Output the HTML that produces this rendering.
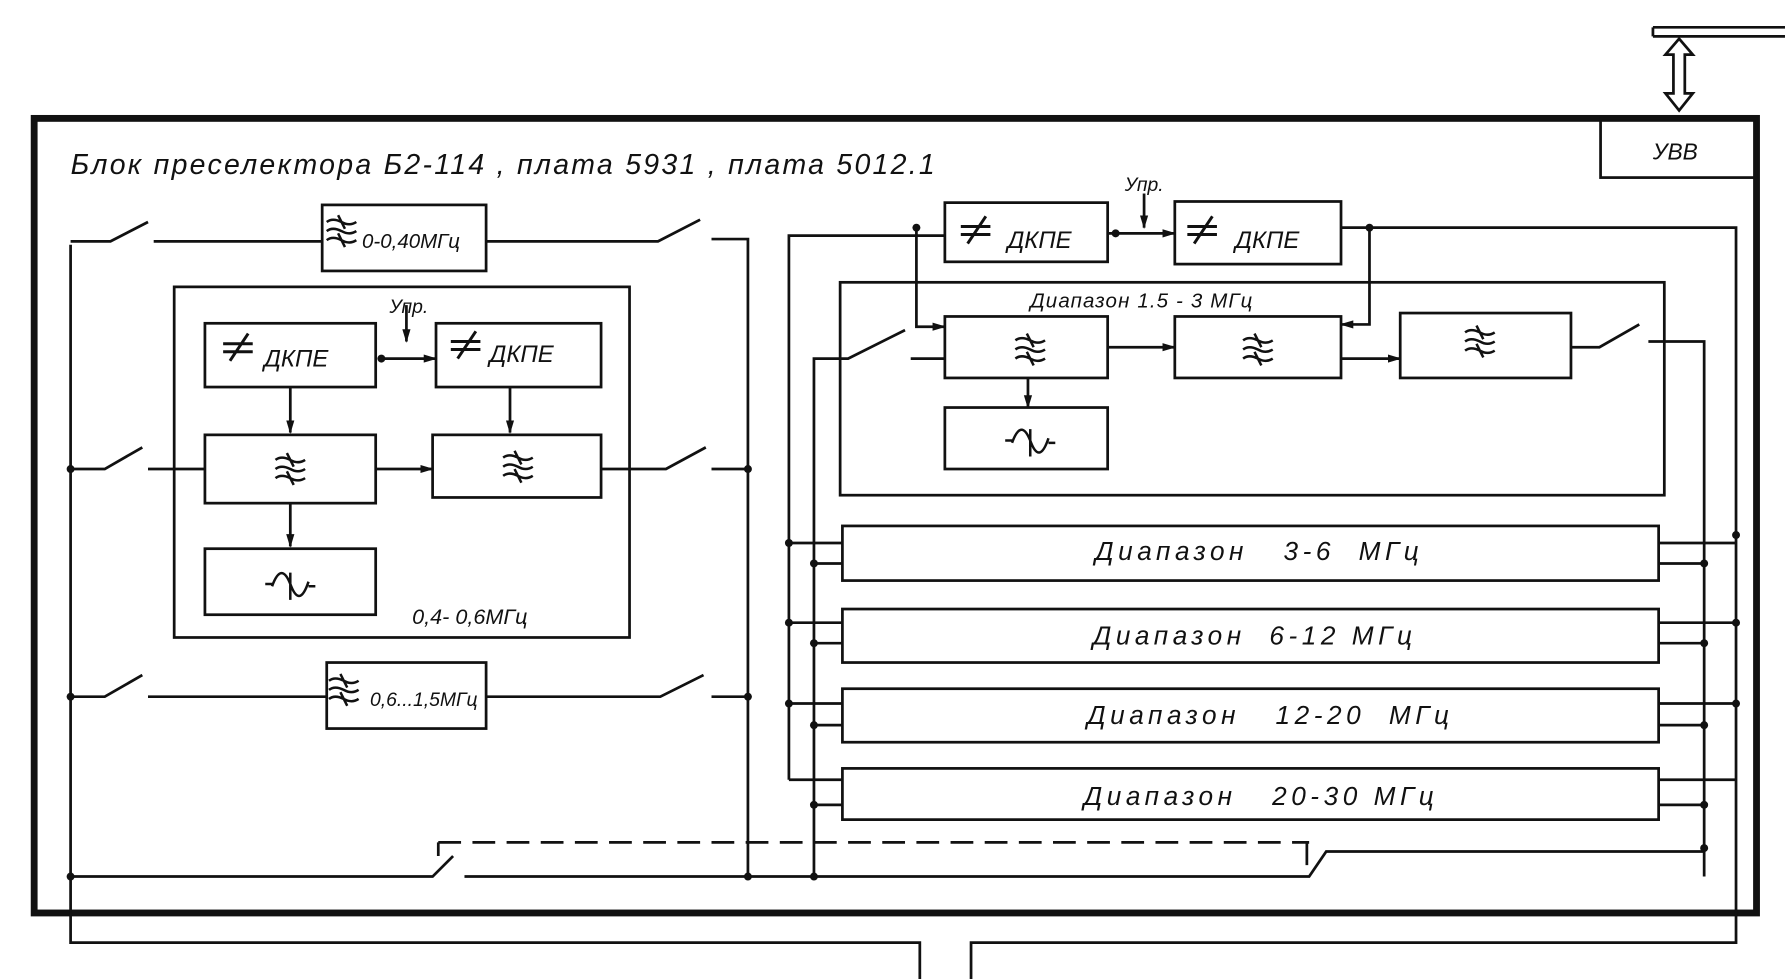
<!DOCTYPE html>
<html><head><meta charset="utf-8"><style>
html,body{margin:0;padding:0;background:#fff;}
svg{display:block}
text{font-family:"Liberation Sans",sans-serif;font-style:italic;fill:#111}
</style></head><body>
<svg width="1785" height="979" viewBox="0 0 1568 860" xmlns="http://www.w3.org/2000/svg">
<defs>
<marker id="a" viewBox="0 0 10 10" refX="9" refY="5" markerWidth="5" markerHeight="5" orient="auto"><path d="M0,2 L10,5 L0,8 z" fill="#111"/></marker>
<g id="flt"><path d="M-13,-8 q5,-4 13,0 q7,4 13,0 M-13,0 q5,-4 13,0 q7,4 13,0 M-13,8 q5,-4 13,0 q7,4 13,0 M-3,-14 L3,-2 M-3,2 L3,14" fill="none" stroke="#111" stroke-width="2.2"/></g>
<g id="ne"><path d="M-14,-3 H12 M-14,4 H12 M-8,12 L8,-12" fill="none" stroke="#111" stroke-width="2.6"/></g>
<g id="sn"><path d="M-22,0 H-16 M-16,2 q8,-22 16,-2 q8,22 16,-2 M16,2 H22 M0,-10 V14" fill="none" stroke="#111" stroke-width="2.2"/></g>
<g id="dot"><circle r="3.5" fill="#111"/></g>
</defs>
<g fill="none" stroke="#111" stroke-width="2.4">
<path d="M1452,24 H1568 M1452,32 H1568 M1452,24 V32"/>
<path d="M1475,34 L1463,48 H1470 V82 H1463 L1475,97 L1487,82 H1480 V48 H1487 Z"/>
<rect x="30" y="104" width="1513" height="698" stroke-width="6"/>
<rect x="1406" y="104" width="137" height="52"/>
<path d="M62,215 V828 H808 V860 M853,860 V828 H1525 V200 H1178"/>
<path d="M62,212 H97 L130,195 M135,212 H283 M427,212 H578 L615,193 M625,210 H657 V770"/>
<rect x="283" y="180" width="144" height="58"/>
<rect x="153" y="252" width="400" height="308"/>
<path d="M62,412 H92 L125,393 M130,412 H180"/>
<rect x="180" y="382" width="150" height="60"/>
<path d="M330,412 H380" marker-end="url(#a)"/>
<rect x="380" y="382" width="148" height="55"/>
<path d="M528,412 H585 L620,393 M625,412 H657"/>
<rect x="180" y="284" width="150" height="56"/>
<rect x="383" y="284" width="145" height="56"/>
<path d="M357,268 V300" marker-end="url(#a)"/>
<path d="M335,315 H383" marker-end="url(#a)"/>
<path d="M255,340 V380" marker-end="url(#a)"/>
<path d="M448,340 V380" marker-end="url(#a)"/>
<path d="M255,442 V480" marker-end="url(#a)"/>
<rect x="180" y="482" width="150" height="58"/>
<path d="M62,612 H92 L125,593 M130,612 H287"/>
<rect x="287" y="582" width="140" height="58"/>
<path d="M427,612 H580 L618,593 M625,612 H657"/>
<path d="M62,770 H380 L398,752 M408,770 H1150 L1165,748 H1497"/>
<path d="M385,740 H1150 M385,740 V752 M1148,740 V760" stroke-dasharray="20,10"/>
<path d="M693,685 V207 H830"/>
<rect x="830" y="178" width="143" height="52"/>
<path d="M973,205 H1032" marker-end="url(#a)"/>
<path d="M1005,170 V200" marker-end="url(#a)"/>
<rect x="1032" y="177" width="146" height="55"/>
<rect x="738" y="248" width="724" height="187"/>
<path d="M805,200 V287 H830" marker-end="url(#a)"/>
<path d="M1203,200 V285 H1178" marker-end="url(#a)"/>
<path d="M715,770 V315 H745 L795,290 M800,315 H830"/>
<rect x="830" y="278" width="143" height="54"/>
<path d="M973,305 H1032" marker-end="url(#a)"/>
<rect x="1032" y="278" width="146" height="54"/>
<path d="M1178,315 H1230" marker-end="url(#a)"/>
<rect x="1230" y="275" width="150" height="57"/>
<path d="M1380,305 H1405 L1440,285 M1448,300 H1497 V770"/>
<path d="M903,332 V358" marker-end="url(#a)"/>
<rect x="830" y="358" width="143" height="54"/>
<rect x="740" y="462" width="717" height="48"/>
<rect x="740" y="535" width="717" height="47"/>
<rect x="740" y="605" width="717" height="47"/>
<rect x="740" y="675" width="717" height="45"/>
<path d="M693,477 H740 M715,495 H740 M1457,477 H1525 M1457,495 H1497
M693,547 H740 M715,565 H740 M1457,547 H1525 M1457,565 H1497
M693,618 H740 M715,637 H740 M1457,618 H1525 M1457,637 H1497
M693,685 H740 M715,707 H740 M1457,685 H1525 M1457,707 H1497"/>
</g>
<g>
<use href="#dot" x="62" y="412"/><use href="#dot" x="62" y="612"/><use href="#dot" x="62" y="770"/>
<use href="#dot" x="657" y="412"/><use href="#dot" x="657" y="612"/><use href="#dot" x="657" y="770"/>
<use href="#dot" x="335" y="315"/><use href="#dot" x="805" y="200"/><use href="#dot" x="1203" y="200"/><use href="#dot" x="980" y="205"/>
<use href="#dot" x="693" y="477"/><use href="#dot" x="693" y="547"/><use href="#dot" x="693" y="618"/>
<use href="#dot" x="715" y="495"/><use href="#dot" x="715" y="565"/><use href="#dot" x="715" y="637"/><use href="#dot" x="715" y="707"/><use href="#dot" x="715" y="770"/>
<use href="#dot" x="1525" y="470"/><use href="#dot" x="1525" y="547"/><use href="#dot" x="1525" y="618"/>
<use href="#dot" x="1497" y="495"/><use href="#dot" x="1497" y="565"/><use href="#dot" x="1497" y="637"/><use href="#dot" x="1497" y="707"/><use href="#dot" x="1497" y="745"/>
</g>
<use href="#flt" x="255" y="412"/><use href="#flt" x="455" y="410"/>
<use href="#flt" x="905" y="307"/><use href="#flt" x="1105" y="307"/><use href="#flt" x="1300" y="300"/>
<use href="#flt" x="300" y="203"/><use href="#flt" x="302" y="606"/>
<use href="#ne" x="210" y="305"/><use href="#ne" x="410" y="303"/><use href="#ne" x="858" y="202"/><use href="#ne" x="1057" y="202"/>
<use href="#sn" x="255" y="513"/><use href="#sn" x="905" y="387"/>
<text x="62" y="153" font-size="25" letter-spacing="2">Блок  преселектора  Б2-114 ,  плата  5931 ,  плата  5012.1</text>
<text x="1452" y="140" font-size="20" font-style="normal">УВВ</text>
<text x="318" y="218" font-size="18">0-0,40МГц</text>
<text x="325" y="620" font-size="17">0,6...1,5МГц</text>
<text x="232" y="322" font-size="21" font-style="normal">ДКПЕ</text>
<text x="430" y="318" font-size="21" font-style="normal">ДКПЕ</text>
<text x="342" y="275" font-size="17">Упр.</text>
<text x="362" y="548" font-size="19">0,4- 0,6МГц</text>
<text x="885" y="218" font-size="21" font-style="normal">ДКПЕ</text>
<text x="1085" y="218" font-size="21" font-style="normal">ДКПЕ</text>
<text x="988" y="168" font-size="17">Упр.</text>
<text x="905" y="270" font-size="18" letter-spacing="1">Диапазон  1.5 - 3 МГц</text>
<text x="962" y="492" font-size="23" letter-spacing="4" xml:space="preserve">Диапазон   3-6  МГц</text>
<text x="960" y="566" font-size="23" letter-spacing="4" xml:space="preserve">Диапазон  6-12 МГц</text>
<text x="955" y="636" font-size="23" letter-spacing="4" xml:space="preserve">Диапазон   12-20  МГц</text>
<text x="952" y="707" font-size="23" letter-spacing="4" xml:space="preserve">Диапазон   20-30 МГц</text>
</svg>
</body></html>
